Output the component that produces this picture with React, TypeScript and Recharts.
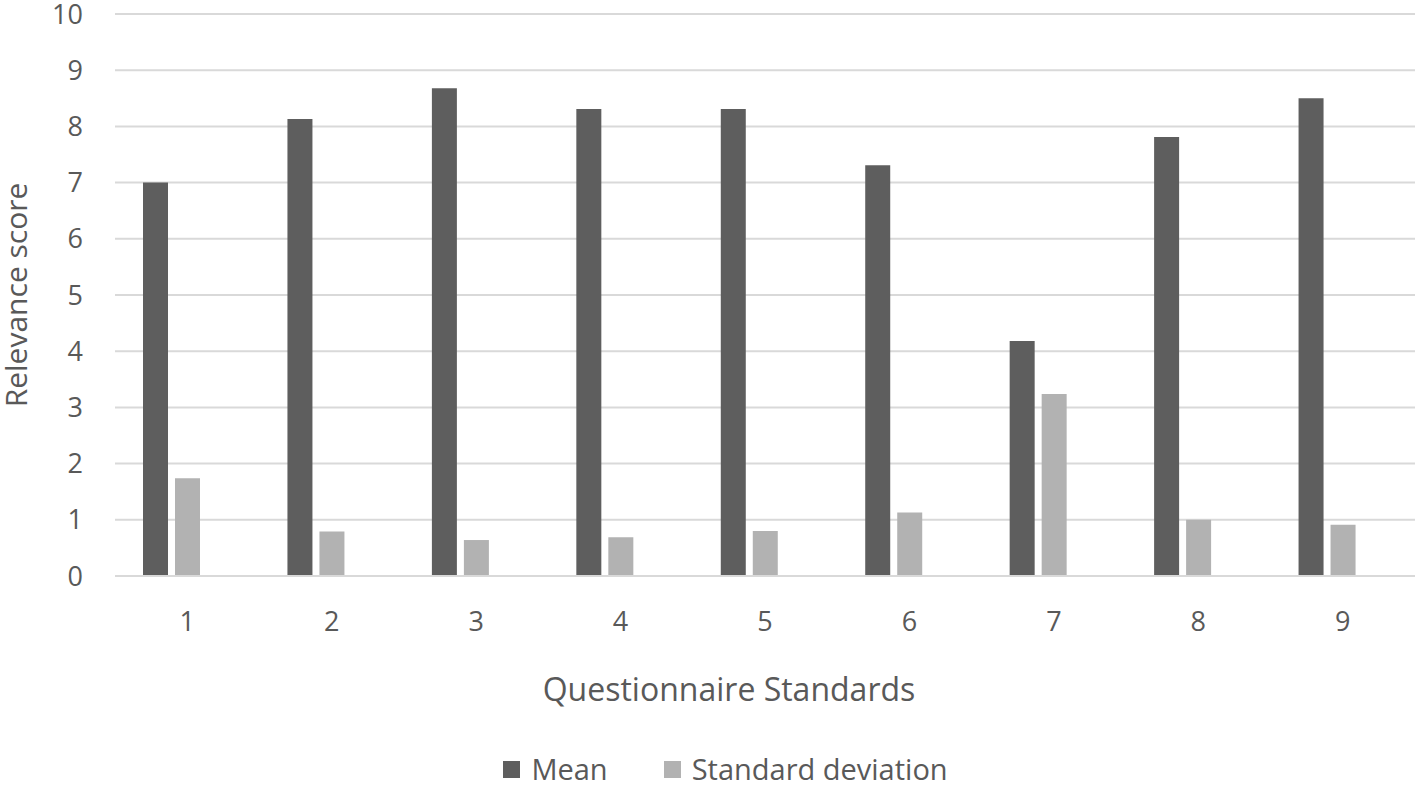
import { BarChart, Bar, XAxis, YAxis, CartesianGrid, Legend } from 'recharts'

const standards = ['1', '2', '3', '4', '5', '6', '7', '8', '9']
const meanScores = [7.0, 8.13, 8.68, 8.31, 8.31, 7.31, 4.18, 7.81, 8.5]
const sdScores = [1.74, 0.79, 0.64, 0.69, 0.8, 1.13, 3.24, 1.0, 0.91]
const yTicks = [0, 1, 2, 3, 4, 5, 6, 7, 8, 9, 10]

const FONT = '"Open Sans", sans-serif'
const TEXT = '#595959'
const MEAN_COLOR = '#5e5e5e'
const SD_COLOR = '#b2b2b2'

const data = standards.map((s, i) => ({
  name: s,
  mean: meanScores[i],
  sd: sdScores[i],
  // empty third series, keeps the bars off-centre like the original
  blank: null,
}))

function YTitle({ viewBox }: any) {
  const cx = 27
  const cy = viewBox.y + viewBox.height / 2
  return (
    <text
      x={cx}
      y={cy}
      transform={`rotate(-90 ${cx} ${cy})`}
      textAnchor="middle"
      fill={TEXT}
      fontSize={30}
      fontFamily={FONT}
    >
      Relevance score
    </text>
  )
}

function XTitle({ viewBox }: any) {
  // the original sits a little left of the plot centre
  const cx = viewBox.x + viewBox.width / 2 - 36
  return (
    <text
      x={cx}
      y={viewBox.y + 125}
      textAnchor="middle"
      fill={TEXT}
      fontSize={32}
      fontFamily={FONT}
    >
      Questionnaire Standards
    </text>
  )
}

function LegendContent() {
  const items = [
    { label: 'Mean', color: MEAN_COLOR },
    { label: 'Standard deviation', color: SD_COLOR },
  ]
  return (
    <div
      style={{
        display: 'flex',
        justifyContent: 'center',
        gap: 56,
        fontFamily: FONT,
        fontSize: 29,
        lineHeight: '32px',
        color: TEXT,
        paddingLeft: 36,
        paddingTop: 8,
      }}
    >
      {items.map((it) => (
        <span key={it.label} style={{ display: 'flex', alignItems: 'center', gap: 11 }}>
          <span style={{ width: 17, height: 17, background: it.color, display: 'inline-block' }} />
          {it.label}
        </span>
      ))}
    </div>
  )
}

export default function App() {
  return (
    <div style={{ position: 'absolute', left: 0, top: 0, background: '#fff' }}>
      <BarChart
        width={1418}
        height={785}
        data={data}
        margin={{ top: 14, right: 3, left: 0, bottom: 0 }}
        barSize={25}
        barGap={7}
      >
        <CartesianGrid vertical={false} stroke="#d9d9d9" strokeWidth={2} />
        <XAxis
          dataKey="name"
          axisLine={{ stroke: '#d9d9d9', strokeWidth: 2 }}
          tickLine={false}
          height={169}
          tickMargin={30}
          tick={{ fill: TEXT, fontSize: 27, fontFamily: FONT }}
          label={<XTitle />}
        />
        <YAxis
          width={115}
          domain={[0, 10]}
          ticks={yTicks}
          interval={0}
          axisLine={false}
          tickLine={false}
          tickMargin={26}
          tick={{ fill: TEXT, fontSize: 27, fontFamily: FONT }}
          label={<YTitle />}
        />
        <Legend verticalAlign="bottom" height={40} content={<LegendContent />} />
        <Bar dataKey="mean" name="Mean" fill={MEAN_COLOR} isAnimationActive={false} />
        <Bar dataKey="sd" name="Standard deviation" fill={SD_COLOR} isAnimationActive={false} />
        <Bar dataKey="blank" legendType="none" fill="none" isAnimationActive={false} />
      </BarChart>
    </div>
  )
}
